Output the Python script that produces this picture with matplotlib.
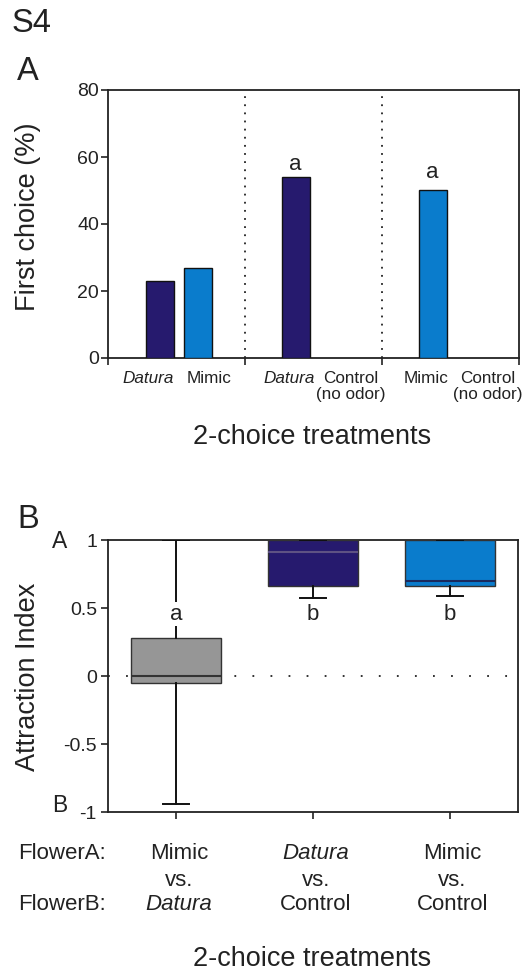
import matplotlib
matplotlib.use("Agg")
import matplotlib.pyplot as plt
import matplotlib.transforms as mtransforms

plt.rcParams['font.family'] = ['Liberation Sans', 'DejaVu Sans']
plt.rcParams['text.color'] = '#222222'
plt.rcParams['axes.edgecolor'] = '#222222'
plt.rcParams['xtick.color'] = '#222222'
plt.rcParams['ytick.color'] = '#222222'

# ---------------- data: panel A ----------------
bar_labels = ['Datura', 'Mimic', 'Datura', 'Control\n(no odor)', 'Mimic', 'Control\n(no odor)']
bar_italic = [True, False, True, False, False, False]
bar_values = [23, 27, 54, 0, 50, 0]
bar_colors = ['#261a6e', '#0a7ccc', '#261a6e', '#ffffff', '#0a7ccc', '#ffffff']
bar_letters = ['', '', 'a', '', 'a', '']
a_yticks = [0, 20, 40, 60, 80]

# ---------------- data: panel B ----------------
box_flowerA = ['Mimic', 'Datura', 'Mimic']
box_flowerB = ['Datura', 'Control', 'Control']
box_med = [0.0, 0.91, 0.70]
box_q1 = [-0.05, 0.66, 0.66]
box_q3 = [0.28, 1.0, 1.0]
box_whislo = [-0.94, 0.57, 0.59]
box_whishi = [1.0, 1.0, 1.0]
box_colors = ['#969696', '#261a6e', '#0a7ccc']
box_median_colors = ['#333333', '#5e5283', '#1a2a5e']
box_letters = ['a', 'b', 'b']
b_yticks = [-1, -0.5, 0, 0.5, 1]
b_yticklabels = ['-1', '-0.5', '0', '0.5', '1']

W, H = 522, 972
fig = plt.figure(figsize=(W / 100, H / 100), dpi=100)


def fx(px):
    return px / W


def fy(py):
    return 1 - py / H


# ================= Panel A =================
axA = fig.add_axes([fx(108), fy(358), fx(519) - fx(108), fy(90) - fy(358)])
bar_x = [0.38, 0.66, 1.37, 1.65, 2.37, 2.65]
label_x = [0.29, 0.74, 1.32, 1.77, 2.32, 2.77]
letter_y = [0, 0, 56.0, 0, 53.7, 0]
for x, v, c in zip(bar_x, bar_values, bar_colors):
    if v > 0:
        axA.bar(x, v, width=0.205, color=c, edgecolor='#111111', linewidth=1.0, zorder=3)
for x, lab, it in zip(label_x, bar_labels, bar_italic):
    axA.text(x, -3.9, lab, ha='center', va='top', fontsize=12.3,
             style='italic' if it else 'normal', linespacing=1.05)
for x, let, ly in zip(bar_x, bar_letters, letter_y):
    if let:
        axA.text(x, ly, let, ha='center', va='baseline', fontsize=16)
for d in [1, 2]:
    axA.axvline(d, color='#222222', linestyle=(0, (1, 3.5)), linewidth=1.3, zorder=1)
axA.set_xlim(0, 3)
axA.set_ylim(0, 80)
axA.set_yticks(a_yticks)
axA.set_yticklabels([str(t) for t in a_yticks], fontsize=14)
axA.set_xticks([0, 1, 2, 3])
axA.set_xticklabels([])
axA.tick_params(direction='out', length=5, width=1.2, pad=1.5)
for s in axA.spines.values():
    s.set_linewidth(1.3)

# ================= Panel B =================
axB = fig.add_axes([fx(108), fy(812), fx(518) - fx(108), fy(540) - fy(812)])
axB.axhline(0, color='#222222', linestyle=(0, (1, 9)), linewidth=1.3, zorder=1)
stats = []
for i in range(3):
    stats.append(dict(med=box_med[i], q1=box_q1[i], q3=box_q3[i],
                      whislo=box_whislo[i], whishi=box_whishi[i], fliers=[]))
bp = axB.bxp(stats, positions=[1, 2, 3], widths=0.66, patch_artist=True,
             showfliers=False, capwidths=0.19, zorder=3)
for i, patch in enumerate(bp['boxes']):
    patch.set_facecolor(box_colors[i])
    patch.set_edgecolor('#333333')
    patch.set_linewidth(1.0)
for i, m in enumerate(bp['medians']):
    m.set_color(box_median_colors[i])
    m.set_linewidth(1.5)
for w in bp['whiskers']:
    w.set_color('#111111')
    w.set_linewidth(1.4)
for c in bp['caps']:
    c.set_color('#111111')
    c.set_linewidth(1.4)
for i, let in enumerate(box_letters):
    axB.text(i + 1, 0.415, let, ha='center', va='baseline', fontsize=16, zorder=5,
             bbox=dict(facecolor='white', edgecolor='none', pad=1.0))
axB.set_xlim(0.5, 3.5)
axB.set_ylim(-1, 1)
axB.set_yticks(b_yticks)
axB.set_yticklabels(b_yticklabels, fontsize=14)
axB.set_xticks([1, 2, 3])
axB.set_xticklabels([])
axB.tick_params(direction='out', length=5, width=1.2, pad=3)
for s in axB.spines.values():
    s.set_linewidth(1.3)

# labels near y-axis for B
fig.text(fx(60), fy(541), 'A', ha='center', va='center', fontsize=16.5)
fig.text(fx(60), fy(806), 'B', ha='center', va='center', fontsize=16.5)

# flower rows under panel B
trB = mtransforms.blended_transform_factory(axB.transData, fig.transFigure)
fig.text(fx(18), fy(853), 'FlowerA:', ha='left', va='center', fontsize=16)
fig.text(fx(18), fy(905), 'FlowerB:', ha='left', va='center', fontsize=16)
for i in range(3):
    fig.text(i + 1.02, fy(853), box_flowerA[i], ha='center', va='center', fontsize=16,
             style='italic' if box_flowerA[i] == 'Datura' else 'normal', transform=trB)
    fig.text(i + 1.02, fy(881), 'vs.', ha='center', va='center', fontsize=16, transform=trB)
    fig.text(i + 1.02, fy(905), box_flowerB[i], ha='center', va='center', fontsize=16,
             style='italic' if box_flowerB[i] == 'Datura' else 'normal', transform=trB)

# titles / axis labels
fig.text(fx(12), fy(23), 'S4', ha='left', va='center', fontsize=23.5)
fig.text(fx(17), fy(72), 'A', ha='left', va='center', fontsize=23.5)
fig.text(fx(17), fy(519), 'B', ha='left', va='center', fontsize=23.5)
fig.text(fx(28), fy(217), 'First choice (%)', rotation=90, ha='center', va='center', fontsize=19.5)
fig.text(fx(28), fy(677), 'Attraction Index', rotation=90, ha='center', va='center', fontsize=19.5)
fig.text(fx(312), fy(437), '2-choice treatments', ha='center', va='center', fontsize=19.5)
fig.text(fx(312), fy(959), '2-choice treatments', ha='center', va='center', fontsize=19.5)

fig.savefig('out.png', dpi=100, facecolor='white')
